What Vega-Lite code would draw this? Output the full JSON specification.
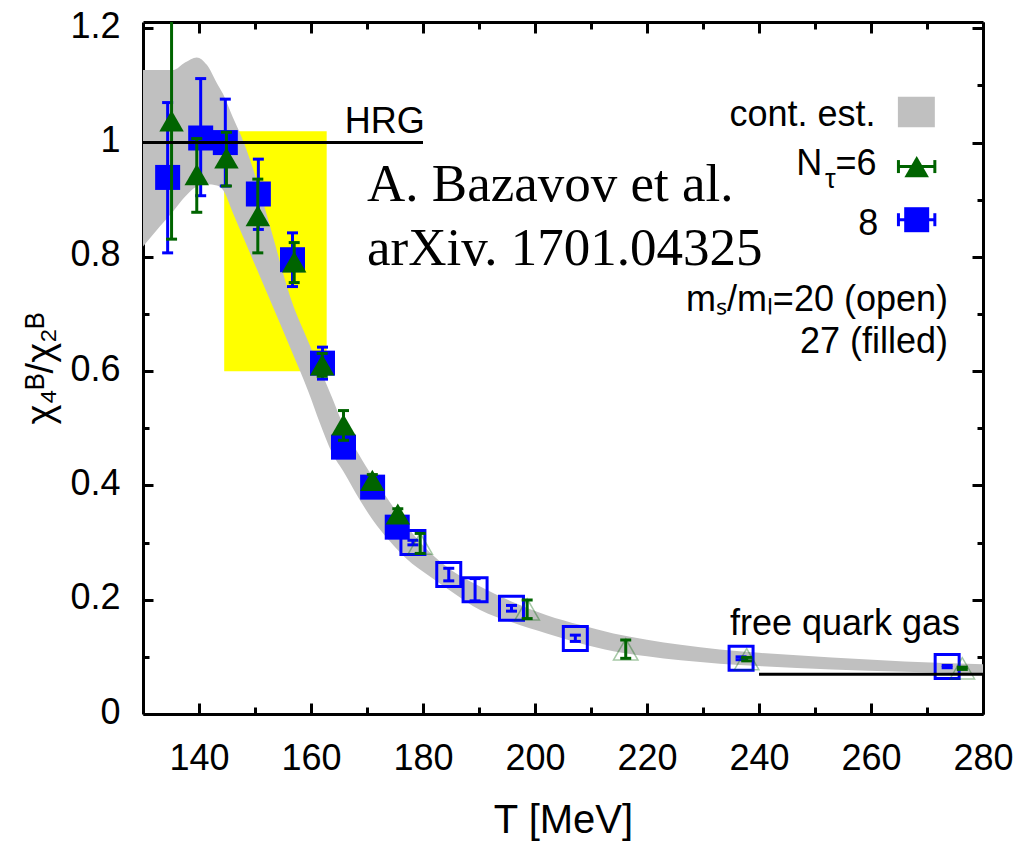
{
  "$schema": "https://vega.github.io/schema/vega-lite/v6.json",
  "width": 840,
  "height": 692,
  "autosize": {"type": "none"},
  "padding": {"left": 143, "top": 22, "right": 35, "bottom": 127},
  "background": "white",
  "config": {
    "view": {"stroke": null},
    "axis": {
      "grid": false, "zindex": 1, "tickColor": "#000", "domainColor": "#000",
      "labelColor": "#000", "titleColor": "#000", "tickWidth": 3, "domainWidth": 3,
      "labelFont": "Liberation Sans Narrow, Liberation Sans, sans-serif",
      "titleFont": "Liberation Sans Narrow, Liberation Sans, sans-serif",
      "titleFontWeight": "normal", "labelFontSize": 36, "titleFontSize": 40
    }
  },
  "resolve": {"axis": {"x": "independent", "y": "independent"}},
  "datasets": {
    "band": [
      {"T": 130, "lo": 0.818, "hi": 1.127},
      {"T": 133, "lo": 0.853, "hi": 1.127},
      {"T": 135.4, "lo": 0.88, "hi": 1.127},
      {"T": 137.5, "lo": 0.905, "hi": 1.14},
      {"T": 139.6, "lo": 0.923, "hi": 1.149},
      {"T": 141.4, "lo": 0.927, "hi": 1.136},
      {"T": 143.2, "lo": 0.925, "hi": 1.104},
      {"T": 144.3, "lo": 0.917, "hi": 1.085},
      {"T": 146, "lo": 0.878, "hi": 1.045},
      {"T": 148, "lo": 0.832, "hi": 1.0},
      {"T": 150.3, "lo": 0.779, "hi": 0.934},
      {"T": 152.7, "lo": 0.724, "hi": 0.853},
      {"T": 156.5, "lo": 0.636, "hi": 0.724},
      {"T": 159.5, "lo": 0.565, "hi": 0.652},
      {"T": 161.6, "lo": 0.509, "hi": 0.604},
      {"T": 163.7, "lo": 0.458, "hi": 0.555},
      {"T": 166, "lo": 0.421, "hi": 0.5},
      {"T": 168.5, "lo": 0.378, "hi": 0.455},
      {"T": 171, "lo": 0.34, "hi": 0.415},
      {"T": 174, "lo": 0.303, "hi": 0.372},
      {"T": 177, "lo": 0.272, "hi": 0.33},
      {"T": 181.3, "lo": 0.24, "hi": 0.282},
      {"T": 185, "lo": 0.215, "hi": 0.252},
      {"T": 190.2, "lo": 0.182, "hi": 0.223},
      {"T": 196, "lo": 0.16, "hi": 0.196},
      {"T": 202.1, "lo": 0.141, "hi": 0.173},
      {"T": 208, "lo": 0.124, "hi": 0.156},
      {"T": 214, "lo": 0.11, "hi": 0.141},
      {"T": 220, "lo": 0.101, "hi": 0.13},
      {"T": 226, "lo": 0.094, "hi": 0.121},
      {"T": 233, "lo": 0.088, "hi": 0.113},
      {"T": 240, "lo": 0.084, "hi": 0.107},
      {"T": 253, "lo": 0.078, "hi": 0.099},
      {"T": 266, "lo": 0.074, "hi": 0.092},
      {"T": 280, "lo": 0.071, "hi": 0.087}
    ],
    "pts": [
      {"s": "8f", "T": 134.4, "v": 0.939, "lo": 0.807, "hi": 1.07},
      {"s": "8f", "T": 140.3, "v": 1.008, "lo": 0.907, "hi": 1.112},
      {"s": "8f", "T": 144.7, "v": 1.0, "lo": 0.924, "hi": 1.076},
      {"s": "8f", "T": 150.6, "v": 0.91, "lo": 0.848, "hi": 0.971},
      {"s": "8f", "T": 156.7, "v": 0.795, "lo": 0.748, "hi": 0.842},
      {"s": "8f", "T": 162.05, "v": 0.614, "lo": 0.586, "hi": 0.642},
      {"s": "8f", "T": 165.8, "v": 0.467, "lo": 0.452, "hi": 0.482},
      {"s": "8f", "T": 171.0, "v": 0.397, "lo": 0.387, "hi": 0.407},
      {"s": "8f", "T": 175.4, "v": 0.327, "lo": 0.318, "hi": 0.336},
      {"s": "8o", "T": 178.2, "v": 0.3, "lo": 0.296, "hi": 0.304},
      {"s": "8o", "T": 184.6, "v": 0.244, "lo": 0.233, "hi": 0.255},
      {"s": "8o", "T": 189.3, "v": 0.2175, "lo": 0.198, "hi": 0.237},
      {"s": "8o", "T": 195.8, "v": 0.185, "lo": 0.18, "hi": 0.19},
      {"s": "8o", "T": 207.2, "v": 0.132, "lo": 0.127, "hi": 0.138},
      {"s": "8o", "T": 236.8, "v": 0.0975, "lo": 0.095, "hi": 0.1},
      {"s": "8o", "T": 273.6, "v": 0.083, "lo": 0.081, "hi": 0.085},
      {"s": "6f", "T": 135.1, "v": 1.038, "lo": 0.831, "hi": 1.245},
      {"s": "6f", "T": 139.6, "v": 0.944, "lo": 0.878, "hi": 1.007},
      {"s": "6f", "T": 144.9, "v": 0.973, "lo": 0.924, "hi": 1.018},
      {"s": "6f", "T": 150.5, "v": 0.872, "lo": 0.807, "hi": 0.936},
      {"s": "6f", "T": 157.0, "v": 0.791, "lo": 0.755, "hi": 0.825},
      {"s": "6f", "T": 162.0, "v": 0.611, "lo": 0.591, "hi": 0.631},
      {"s": "6f", "T": 165.8, "v": 0.506, "lo": 0.479, "hi": 0.531},
      {"s": "6f", "T": 170.95, "v": 0.409, "lo": 0.399, "hi": 0.419},
      {"s": "6f", "T": 175.5, "v": 0.35, "lo": 0.341, "hi": 0.359},
      {"s": "6o", "T": 179.5, "v": 0.298, "lo": 0.281, "hi": 0.316},
      {"s": "6o", "T": 198.6, "v": 0.183, "lo": 0.167, "hi": 0.1995},
      {"s": "6o", "T": 216.2, "v": 0.113, "lo": 0.0974, "hi": 0.1295},
      {"s": "6o", "T": 237.8, "v": 0.096, "lo": 0.093, "hi": 0.099},
      {"s": "6o", "T": 276.3, "v": 0.08, "lo": 0.078, "hi": 0.082}
    ],
    "legend": [
      {"s": "6", "T": 268.16, "v": 0.958, "lo": 264.9, "hi": 271.4},
      {"s": "8", "T": 268.16, "v": 0.865, "lo": 264.9, "hi": 271.4}
    ],
    "notes": [
      {"T": 180.3, "v": 1.0166, "text": "HRG"},
      {"T": 260.8, "v": 1.029, "text": "cont. est."},
      {"T": 261.0, "v": 0.943, "text": "=6"},
      {"T": 251.3, "v": 0.943, "text": "N"},
      {"T": 261.3, "v": 0.838, "text": "8"},
      {"T": 273.75, "v": 0.7044, "text": "mₛ/mₗ=20 (open)"},
      {"T": 273.75, "v": 0.631, "text": "27 (filled)"},
      {"T": 275.9, "v": 0.1382, "text": "free quark gas"}
    ]
  },
  "layer": [
    {
      "data": {"values": [{"T": 144.5, "T2": 162.8, "v": 0.6, "v2": 1.02}]},
      "mark": {"type": "rect", "color": "#ffff00"},
      "encoding": {
        "x": {"field": "T", "type": "quantitative", "scale": {"domain": [130, 280], "nice": false, "zero": false},
          "axis": {"orient": "bottom", "values": [140, 160, 180, 200, 220, 240, 260, 280], "tickSize": -11,
            "domain": true, "labelPadding": 66, "labelBaseline": "alphabetic", "labelAlign": "center",
            "labelFlush": false, "labelOverlap": false, "format": "d",
            "title": "T [MeV]", "titleX": 420, "titleY": 118, "titleBaseline": "alphabetic", "titleAlign": "center", "titleAnchor": null}},
        "x2": {"field": "T2"},
        "y": {"field": "v", "type": "quantitative", "scale": {"domain": [0, 1.211], "nice": false, "zero": false},
          "axis": {"orient": "left", "values": [0, 0.2, 0.4, 0.6, 0.8, 1, 1.2], "format": "~g", "tickSize": -10,
            "domain": true, "labelPadding": 33, "labelAlign": "right", "labelBaseline": "middle", "labelOffset": -2,
            "labelOverlap": false, "labelFlush": false,
            "title": "χ₄ᴮ/χ₂ᴮ", "titleFontSize": 38, "titleX": -91, "titleY": 346, "titleAngle": 270,
            "titleBaseline": "alphabetic", "titleAlign": "center"}},
        "y2": {"field": "v2"}
      }
    },
    {
      "data": {"name": "band"},
      "mark": {"type": "area", "color": "#c0c0c0", "opacity": 1, "clip": true, "interpolate": "monotone"},
      "encoding": {
        "x": {"field": "T", "type": "quantitative", "scale": {"domain": [130, 280], "nice": false, "zero": false},
          "axis": {"orient": "bottom", "values": [150, 170, 190, 210, 230, 250, 270], "tickSize": -7, "labels": false, "domain": false, "title": null}},
        "y": {"field": "lo", "type": "quantitative", "scale": {"domain": [0, 1.211], "nice": false, "zero": false},
          "axis": {"orient": "left", "values": [0.1, 0.3, 0.5, 0.7, 0.9, 1.1], "tickSize": -6, "labels": false, "domain": false, "title": null}},
        "y2": {"field": "hi"}
      }
    },
    {
      "data": {"name": "pts"},
      "transform": [{"filter": {"field": "s", "oneOf": ["8f", "8o"]}}],
      "mark": {"type": "rule", "color": "#0000ff", "strokeWidth": 3, "clip": true},
      "encoding": {
        "x": {"field": "T", "type": "quantitative", "scale": {"domain": [130, 280], "nice": false, "zero": false},
          "axis": {"orient": "top", "values": [140, 160, 180, 200, 220, 240, 260, 280], "tickSize": -11, "labels": false, "domain": true, "title": null}},
        "y": {"field": "lo", "type": "quantitative", "scale": {"domain": [0, 1.211], "nice": false, "zero": false},
          "axis": {"orient": "right", "values": [0, 0.2, 0.4, 0.6, 0.8, 1, 1.2], "tickSize": -11, "labels": false, "domain": true, "title": null}},
        "y2": {"field": "hi"}
      }
    },
    {
      "data": {"name": "pts"},
      "transform": [{"filter": {"field": "s", "oneOf": ["8f", "8o"]}}],
      "mark": {"type": "tick", "orient": "horizontal", "color": "#0000ff", "size": 11, "thickness": 3, "opacity": 1, "clip": true},
      "encoding": {
        "x": {"field": "T", "type": "quantitative", "scale": {"domain": [130, 280], "nice": false, "zero": false},
          "axis": {"orient": "top", "values": [150, 170, 190, 210, 230, 250, 270], "tickSize": -7, "labels": false, "domain": false, "title": null}},
        "y": {"field": "lo", "type": "quantitative", "scale": {"domain": [0, 1.211], "nice": false, "zero": false},
          "axis": {"orient": "right", "values": [0.1, 0.3, 0.5, 0.7, 0.9, 1.1], "tickSize": -6, "labels": false, "domain": false, "title": null}}
      }
    },
    {
      "data": {"name": "pts"},
      "transform": [{"filter": {"field": "s", "oneOf": ["8f", "8o"]}}],
      "mark": {"type": "tick", "orient": "horizontal", "color": "#0000ff", "size": 11, "thickness": 3, "opacity": 1, "clip": true},
      "encoding": {
        "x": {"field": "T", "type": "quantitative", "scale": {"domain": [130, 280], "nice": false, "zero": false}, "axis": null},
        "y": {"field": "hi", "type": "quantitative", "scale": {"domain": [0, 1.211], "nice": false, "zero": false}, "axis": null}
      }
    },
    {
      "data": {"name": "pts"},
      "transform": [{"filter": {"field": "s", "equal": "8f"}}],
      "mark": {"type": "point", "shape": "square", "filled": true, "color": "#0000ff", "size": 625, "opacity": 1},
      "encoding": {
        "x": {"field": "T", "type": "quantitative", "scale": {"domain": [130, 280], "nice": false, "zero": false}, "axis": null},
        "y": {"field": "v", "type": "quantitative", "scale": {"domain": [0, 1.211], "nice": false, "zero": false}, "axis": null}
      }
    },
    {
      "data": {"name": "pts"},
      "transform": [{"filter": {"field": "s", "equal": "8o"}}],
      "mark": {"type": "point", "shape": "square", "filled": false, "color": "#0000ff", "strokeWidth": 3, "size": 576, "opacity": 1},
      "encoding": {
        "x": {"field": "T", "type": "quantitative", "scale": {"domain": [130, 280], "nice": false, "zero": false}, "axis": null},
        "y": {"field": "v", "type": "quantitative", "scale": {"domain": [0, 1.211], "nice": false, "zero": false}, "axis": null}
      }
    },
    {
      "data": {"name": "pts"},
      "transform": [{"filter": {"field": "s", "oneOf": ["6f", "6o"]}}],
      "mark": {"type": "rule", "color": "#006400", "strokeWidth": 3, "clip": true},
      "encoding": {
        "x": {"field": "T", "type": "quantitative", "scale": {"domain": [130, 280], "nice": false, "zero": false}, "axis": null},
        "y": {"field": "lo", "type": "quantitative", "scale": {"domain": [0, 1.211], "nice": false, "zero": false}, "axis": null},
        "y2": {"field": "hi"}
      }
    },
    {
      "data": {"name": "pts"},
      "transform": [{"filter": {"field": "s", "oneOf": ["6f", "6o"]}}],
      "mark": {"type": "tick", "orient": "horizontal", "color": "#006400", "size": 11, "thickness": 3, "opacity": 1, "clip": true},
      "encoding": {
        "x": {"field": "T", "type": "quantitative", "scale": {"domain": [130, 280], "nice": false, "zero": false}, "axis": null},
        "y": {"field": "lo", "type": "quantitative", "scale": {"domain": [0, 1.211], "nice": false, "zero": false}, "axis": null}
      }
    },
    {
      "data": {"name": "pts"},
      "transform": [{"filter": {"field": "s", "oneOf": ["6f", "6o"]}}],
      "mark": {"type": "tick", "orient": "horizontal", "color": "#006400", "size": 11, "thickness": 3, "opacity": 1, "clip": true},
      "encoding": {
        "x": {"field": "T", "type": "quantitative", "scale": {"domain": [130, 280], "nice": false, "zero": false}, "axis": null},
        "y": {"field": "hi", "type": "quantitative", "scale": {"domain": [0, 1.211], "nice": false, "zero": false}, "axis": null}
      }
    },
    {
      "data": {"name": "pts"},
      "transform": [{"filter": {"field": "s", "equal": "6f"}}],
      "mark": {"type": "point", "shape": "triangle-up", "filled": true, "color": "#006400", "size": 600, "opacity": 1},
      "encoding": {
        "x": {"field": "T", "type": "quantitative", "scale": {"domain": [130, 280], "nice": false, "zero": false}, "axis": null},
        "y": {"field": "v", "type": "quantitative", "scale": {"domain": [0, 1.211], "nice": false, "zero": false}, "axis": null}
      }
    },
    {
      "data": {"name": "pts"},
      "transform": [{"filter": {"field": "s", "equal": "6o"}}],
      "mark": {"type": "point", "shape": "triangle-up", "filled": false, "color": "#006400", "strokeWidth": 1.5, "strokeOpacity": 0.35, "size": 600, "opacity": 1},
      "encoding": {
        "x": {"field": "T", "type": "quantitative", "scale": {"domain": [130, 280], "nice": false, "zero": false}, "axis": null},
        "y": {"field": "v", "type": "quantitative", "scale": {"domain": [0, 1.211], "nice": false, "zero": false}, "axis": null}
      }
    },
    {
      "data": {"values": [{"T": 130, "T2": 180, "v": 1.0}, {"T": 240, "T2": 280, "v": 0.0695}]},
      "mark": {"type": "rule", "color": "#000000", "strokeWidth": 3},
      "encoding": {
        "x": {"field": "T", "type": "quantitative", "scale": {"domain": [130, 280], "nice": false, "zero": false}, "axis": null},
        "x2": {"field": "T2"},
        "y": {"field": "v", "type": "quantitative", "scale": {"domain": [0, 1.211], "nice": false, "zero": false}, "axis": null}
      }
    },
    {
      "data": {"values": [{"T": 264.8, "T2": 271.4, "v": 1.027, "v2": 1.08}]},
      "mark": {"type": "rect", "color": "#c0c0c0"},
      "encoding": {
        "x": {"field": "T", "type": "quantitative", "scale": {"domain": [130, 280], "nice": false, "zero": false}, "axis": null},
        "x2": {"field": "T2"},
        "y": {"field": "v", "type": "quantitative", "scale": {"domain": [0, 1.211], "nice": false, "zero": false}, "axis": null},
        "y2": {"field": "v2"}
      }
    },
    {
      "data": {"name": "legend"},
      "mark": {"type": "rule", "strokeWidth": 3},
      "encoding": {
        "x": {"field": "lo", "type": "quantitative", "scale": {"domain": [130, 280], "nice": false, "zero": false}, "axis": null},
        "x2": {"field": "hi"},
        "y": {"field": "v", "type": "quantitative", "scale": {"domain": [0, 1.211], "nice": false, "zero": false}, "axis": null},
        "color": {"field": "s", "type": "nominal", "scale": {"domain": ["6", "8"], "range": ["#006400", "#0000ff"]}, "legend": null}
      }
    },
    {
      "data": {"name": "legend"},
      "mark": {"type": "tick", "orient": "vertical", "size": 13, "thickness": 3, "opacity": 1},
      "encoding": {
        "x": {"field": "lo", "type": "quantitative", "scale": {"domain": [130, 280], "nice": false, "zero": false}, "axis": null},
        "y": {"field": "v", "type": "quantitative", "scale": {"domain": [0, 1.211], "nice": false, "zero": false}, "axis": null},
        "color": {"field": "s", "type": "nominal", "scale": {"domain": ["6", "8"], "range": ["#006400", "#0000ff"]}, "legend": null}
      }
    },
    {
      "data": {"name": "legend"},
      "mark": {"type": "tick", "orient": "vertical", "size": 13, "thickness": 3, "opacity": 1},
      "encoding": {
        "x": {"field": "hi", "type": "quantitative", "scale": {"domain": [130, 280], "nice": false, "zero": false}, "axis": null},
        "y": {"field": "v", "type": "quantitative", "scale": {"domain": [0, 1.211], "nice": false, "zero": false}, "axis": null},
        "color": {"field": "s", "type": "nominal", "scale": {"domain": ["6", "8"], "range": ["#006400", "#0000ff"]}, "legend": null}
      }
    },
    {
      "data": {"name": "legend"},
      "transform": [{"filter": {"field": "s", "equal": "6"}}],
      "mark": {"type": "point", "shape": "triangle-up", "filled": true, "color": "#006400", "size": 600, "opacity": 1},
      "encoding": {
        "x": {"field": "T", "type": "quantitative", "scale": {"domain": [130, 280], "nice": false, "zero": false}, "axis": null},
        "y": {"field": "v", "type": "quantitative", "scale": {"domain": [0, 1.211], "nice": false, "zero": false}, "axis": null}
      }
    },
    {
      "data": {"name": "legend"},
      "transform": [{"filter": {"field": "s", "equal": "8"}}],
      "mark": {"type": "point", "shape": "square", "filled": true, "color": "#0000ff", "size": 625, "opacity": 1},
      "encoding": {
        "x": {"field": "T", "type": "quantitative", "scale": {"domain": [130, 280], "nice": false, "zero": false}, "axis": null},
        "y": {"field": "v", "type": "quantitative", "scale": {"domain": [0, 1.211], "nice": false, "zero": false}, "axis": null}
      }
    },
    {
      "data": {"name": "notes"},
      "mark": {"type": "text", "align": "right", "baseline": "alphabetic", "fontSize": 36, "color": "#000000",
        "font": "Liberation Sans Narrow, Liberation Sans, sans-serif"},
      "encoding": {
        "x": {"field": "T", "type": "quantitative", "scale": {"domain": [130, 280], "nice": false, "zero": false}, "axis": null},
        "y": {"field": "v", "type": "quantitative", "scale": {"domain": [0, 1.211], "nice": false, "zero": false}, "axis": null},
        "text": {"field": "text"}
      }
    },
    {
      "data": {"values": [{"T": 253.7, "v": 0.921, "text": "τ"}]},
      "mark": {"type": "text", "align": "right", "baseline": "alphabetic", "fontSize": 27, "color": "#000000",
        "font": "Liberation Sans Narrow, Liberation Sans, sans-serif"},
      "encoding": {
        "x": {"field": "T", "type": "quantitative", "scale": {"domain": [130, 280], "nice": false, "zero": false}, "axis": null},
        "y": {"field": "v", "type": "quantitative", "scale": {"domain": [0, 1.211], "nice": false, "zero": false}, "axis": null},
        "text": {"field": "text"}
      }
    },
    {
      "data": {"values": [{"T": 170, "v": 0.8976, "text": "A. Bazavov et al."}, {"T": 170, "v": 0.7857, "text": "arXiv. 1701.04325"}]},
      "mark": {"type": "text", "align": "left", "baseline": "alphabetic", "fontSize": 53, "color": "#000000",
        "font": "Liberation Serif, Times New Roman, serif"},
      "encoding": {
        "x": {"field": "T", "type": "quantitative", "scale": {"domain": [130, 280], "nice": false, "zero": false}, "axis": null},
        "y": {"field": "v", "type": "quantitative", "scale": {"domain": [0, 1.211], "nice": false, "zero": false}, "axis": null},
        "text": {"field": "text"}
      }
    }
  ]
}
